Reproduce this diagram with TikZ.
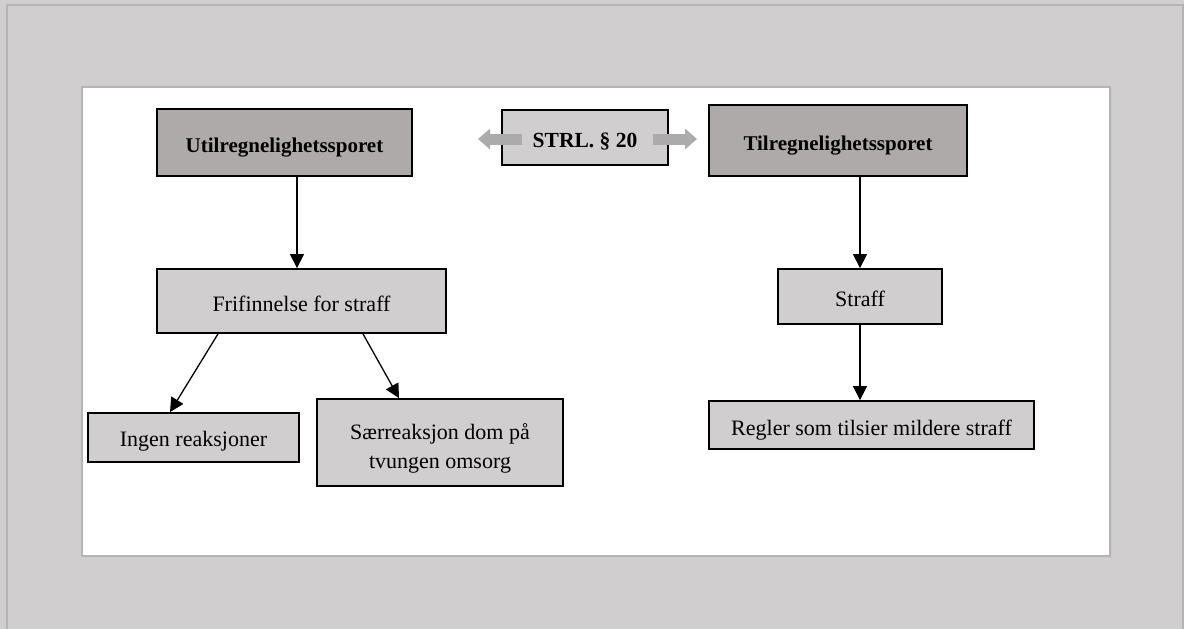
\documentclass[tikz,border=0pt]{standalone}
\usepackage{fontspec}
\setmainfont{Liberation Serif}
\usetikzlibrary{arrows.meta}
\definecolor{bggray}{HTML}{D0CECF}
\definecolor{framegray}{HTML}{B4B4B4}
\definecolor{boxlight}{HTML}{D0CECE}
\definecolor{boxdark}{HTML}{AEAAAA}
\definecolor{blockarrow}{HTML}{ABABAB}
\begin{document}
\begin{tikzpicture}[x=1pt,y=-1pt,
  box/.style={draw=black,line width=1.8pt,fill=boxlight,inner sep=0pt,align=center,
    text height=21pt,text depth=1pt,font=\fontsize{22}{29}\selectfont},
  darkbox/.style={box,fill=boxdark,text height=20pt,font=\fontsize{21}{26}\selectfont\bfseries},
  conn/.style={line width=1.3pt,-{Triangle[length=14pt,width=14pt]}},
  garrow/.style={line width=11pt,draw=blockarrow,-{Triangle[length=12pt,width=20pt]}}]
\useasboundingbox (0,0) rectangle (1184,629);
\fill[bggray] (0,0) rectangle (1184,629);
\draw[framegray,line width=2pt] (7,640) -- (7,5) -- (1183,5) -- (1183,640);
\fill[framegray!70] (84,89) rectangle (1112,558);
\draw[framegray,line width=1.5pt,fill=white] (82,87) rectangle (1110,556);

\node[darkbox,minimum width=255pt,minimum height=67pt] (util) at (284.5,142.5) {Utilregnelighetssporet};
\node[box,font=\fontsize{21.5}{26}\selectfont\bfseries,minimum width=166pt,minimum height=55pt] (strl) at (585,137.5) {STRL. § 20};
\node[darkbox,minimum width=258pt,minimum height=71pt] (tilr) at (838,140.5) {Tilregnelighetssporet};

\node[box,minimum width=289pt,minimum height=64pt] (fri) at (301.5,301) {Frifinnelse for straff};
\node[box,minimum width=164pt,minimum height=55pt] (straff) at (860,296.5) {Straff};
\node[box,minimum width=211pt,minimum height=49pt,text height=18pt] (ingen) at (193.5,437.5) {Ingen reaksjoner};
\node[box,minimum width=246pt,minimum height=87pt,text height=51pt,text depth=0pt] (saer) at (440,442.5) {Særreaksjon dom på\\tvungen omsorg};
\node[box,minimum width=325pt,minimum height=48pt] (regler) at (871.5,425) {Regler som tilsier mildere straff};

\coordinate (lend) at (478,139);
\coordinate (rend) at (697,139);
\draw[garrow] (522,139) -- (lend);
\draw[garrow] (653,139) -- (rend);

\draw[conn] (util.south -| 297,0) -- (fri.north -| 297,0);
\draw[conn] (fri.south -| 218,0) -- (ingen.north -| 170,0);
\draw[conn] (fri.south -| 363,0) -- (saer.north -| 399,0);
\draw[conn] (tilr.south -| 860,0) -- (straff.north -| 860,0);
\draw[conn] (straff.south) -- (regler.north -| 860,0);
\end{tikzpicture}
\end{document}
